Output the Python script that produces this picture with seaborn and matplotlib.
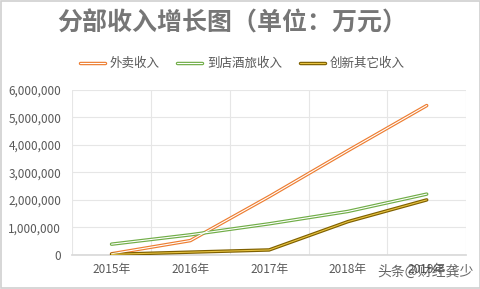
import matplotlib
matplotlib.use("Agg")
import matplotlib.pyplot as plt
import seaborn as sns
import pandas as pd
from matplotlib.lines import Line2D
from matplotlib.legend_handler import HandlerTuple
from matplotlib.ticker import FuncFormatter, MultipleLocator
from matplotlib.patches import Rectangle

years = ["2015年", "2016年", "2017年", "2018年", "2019年"]
takeout = [40000, 520000, 2120000, 3790000, 5430000]
hotel_travel = [390000, 730000, 1130000, 1580000, 2210000]
innovation = [20000, 100000, 180000, 1210000, 2000000]
series_names = ["外卖收入", "到店酒旅收入", "创新其它收入"]
title = "分部收入增长图（单位：万元）"

sns.set_theme(style="white")
plt.rcParams['font.family'] = ['Noto Sans CJK SC', 'DejaVu Sans']

df = pd.DataFrame({
    "year": years * 3,
    "x": list(range(len(years))) * 3,
    "value": takeout + hotel_travel + innovation,
    "series": [series_names[0]] * 5 + [series_names[1]] * 5 + [series_names[2]] * 5,
})

outer = {series_names[0]: "#ED7D31", series_names[1]: "#70AD47", series_names[2]: "#7F6000"}
inner = {series_names[0]: "#FFFFFF", series_names[1]: "#FFFFFF", series_names[2]: "#E8C443"}

fig = plt.figure(figsize=(4.81, 2.89), dpi=100)
ax = fig.add_axes([0.150, 0.118, 0.819, 0.571])

for name in series_names:
    sub = df[df.series == name]
    sns.lineplot(data=sub, x="x", y="value", color=outer[name], lw=2.5, ax=ax,
                 legend=False, solid_joinstyle="miter", zorder=3)
    sns.lineplot(data=sub, x="x", y="value", color=inner[name], lw=0.8, ax=ax,
                 legend=False, solid_joinstyle="miter", zorder=4)

ax.set_xlim(-0.5, len(years) - 0.5)
ax.set_ylim(0, 6000000)
ax.yaxis.set_major_locator(MultipleLocator(1000000))
ax.yaxis.set_major_formatter(FuncFormatter(lambda v, p: f"{int(v):,}"))
ax.set_xticks(range(len(years)))
ax.set_xticklabels(years)
ax.set_xticks([i - 0.5 for i in range(len(years) + 1)], minor=True)
ax.grid(True, axis="y", which="major", color="#E6E6E6", lw=0.8)
ax.grid(True, axis="x", which="minor", color="#E6E6E6", lw=0.8)
ax.grid(False, axis="x", which="major")
ax.set_xlabel("")
ax.set_ylabel("")
for s in ["top", "right", "left"]:
    ax.spines[s].set_visible(False)
ax.spines["bottom"].set_color("#D9D9D9")
ax.tick_params(axis="both", which="both", length=0, labelsize=8.5, labelcolor="#595959")
ax.tick_params(axis="y", pad=8)
ax.tick_params(axis="x", pad=6)

fig.text(0.482, 0.918, title, ha="center", va="center", fontsize=18,
         fontweight="bold", color="#767676")

handles = []
for name in series_names:
    h1 = Line2D([], [], color=outer[name], lw=2.5)
    h2 = Line2D([], [], color=inner[name], lw=0.8)
    handles.append((h1, h2))
fig.legend(handles, series_names, handler_map={tuple: HandlerTuple(ndivide=1)},
           loc="center", bbox_to_anchor=(0.504, 0.78), ncol=3, frameon=False,
           fontsize=9, labelcolor="#595959", handlelength=2.0, handletextpad=0.4,
           columnspacing=1.4)

fig.text(0.885, 0.058, "头条@财经龚少", ha="center", va="center", fontsize=10,
         color="#333333", alpha=0.75)

fig.patches.append(Rectangle((0.002, 0.003), 0.995, 0.993, transform=fig.transFigure,
                             fill=False, edgecolor="#D0D0D0", lw=1.2))

fig.savefig("out.png", dpi=100, facecolor="white")
